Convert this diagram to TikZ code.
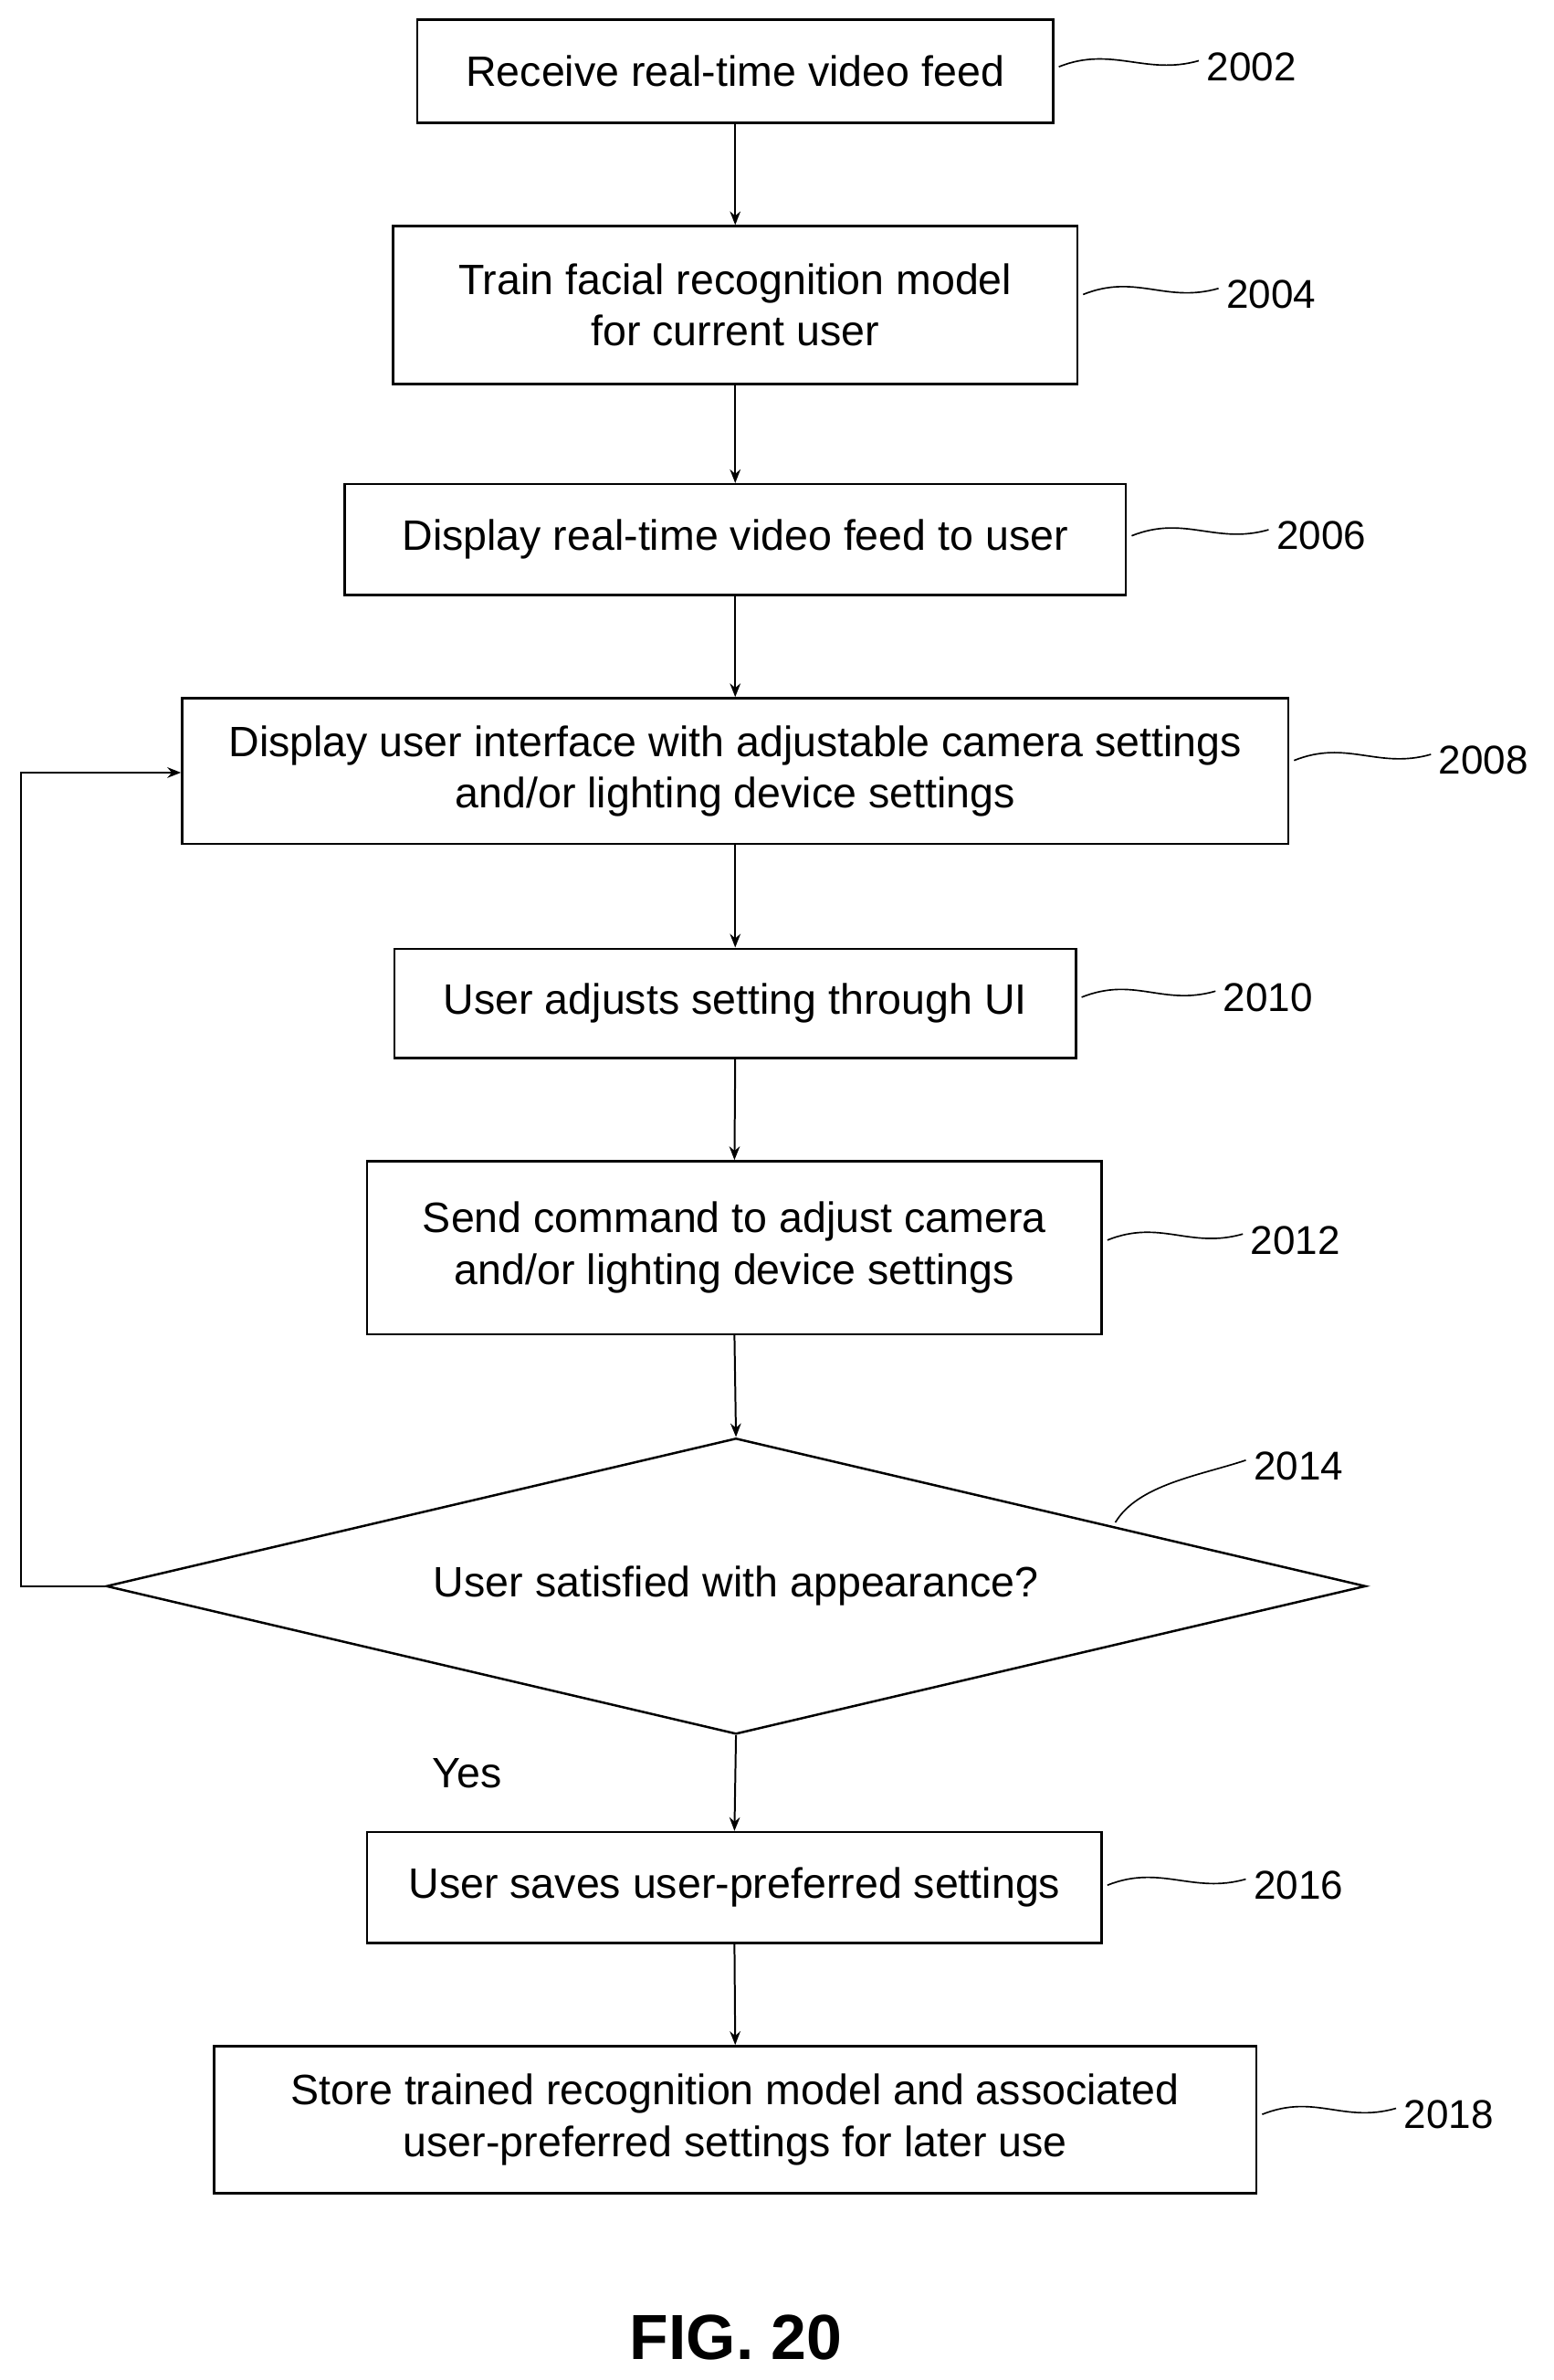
\documentclass[tikz,border=0pt]{standalone}
\usepackage{fontspec}
\setmainfont{Liberation Sans}
\usetikzlibrary{arrows.meta,shapes.geometric}
\begin{document}
\begin{tikzpicture}[x=1pt,y=-1pt,
  box/.style={draw,line width=1.5pt,inner sep=0pt,align=center,font=\fontsize{28}{34}\selectfont},
  lab/.style={font=\fontsize{26.5}{28}\selectfont,anchor=west,inner sep=1pt},
  arr/.style={-{Stealth[length=9pt,width=7pt]},line width=1.2pt},
  sq/.style={line width=1pt}]
\useasboundingbox (0,0) rectangle (1024,1568);
\fill[white] (0,0) rectangle (1024,1568);
\node[box,minimum width=419,minimum height=68] (b1) at (484.5,47) {Receive real-time video feed};
\node[box,minimum width=451,minimum height=104] (b2) at (484.5,201) {Train facial recognition model\\for current user};
\node[box,minimum width=515,minimum height=73] (b3) at (484.5,355.5) {Display real-time video feed to user};
\node[box,minimum width=729,minimum height=96] (b4) at (484.5,508) {Display user interface with adjustable camera settings\\and/or lighting device settings};
\node[box,minimum width=449,minimum height=72] (b5) at (484.5,661) {User adjusts setting through UI};
\node[box,minimum width=484,minimum height=114] (b6) at (484,822) {Send command to adjust camera\\and/or lighting device settings};
\node[draw,line width=1.5pt,diamond,aspect=4.26,minimum width=830,minimum height=195,inner sep=0pt,font=\fontsize{28}{28}\selectfont] (d) at (485,1045) {User satisfied with appearance?};
\node[box,minimum width=484,minimum height=73] (b7) at (484,1243.5) {User saves user-preferred settings};
\node[box,minimum width=687,minimum height=97] (b8) at (484.5,1396.5) {Store trained recognition model and associated\\user-preferred settings for later use};
\foreach \a/\b in {b1/b2,b2/b3,b3/b4,b4/b5,b5/b6,b6/d,d/b7,b7/b8}
  \draw[arr] (\a.south) -- (\b.north);
\coordinate (lp) at (14,1045);
\coordinate (lq) at (14,509);
\draw[arr] (d.west) -- (lp) -- (lq) -- (b4.west|-lq);
\node[font=\fontsize{28}{28}\selectfont] (yes) at (308,1168) {Yes};
\node[font=\bfseries\fontsize{42}{44}\selectfont] (fig) at (485,1540) {FIG. 20};
\node[lab] (l1) at (794,44) {2002};
\node[lab] (l2) at (807,194) {2004};
\node[lab] (l3) at (840,353) {2006};
\node[lab] (l4) at (947,501) {2008};
\node[lab] (l5) at (805,657) {2010};
\node[lab] (l6) at (823,817) {2012};
\node[lab] (l7) at (825,966) {2014};
\node[lab] (l8) at (825,1242) {2016};
\node[lab] (l9) at (924,1393) {2018};
\foreach \b/\l in {b1/l1,b2/l2,b3/l3,b4/l4,b5/l5,b6/l6,b7/l8,b8/l9}
  \draw[sq] ([xshift=3pt]\b.east|-\l.west) .. controls +(35,-14) and +(-35,10) .. ([xshift=-4pt,yshift=4pt]\l.west);
\coordinate (dp) at (735,1003);
\draw[sq] (dp) .. controls +(15,-25) and +(-30,10) .. ([xshift=-4pt,yshift=4pt]l7.west);
\end{tikzpicture}
\end{document}
